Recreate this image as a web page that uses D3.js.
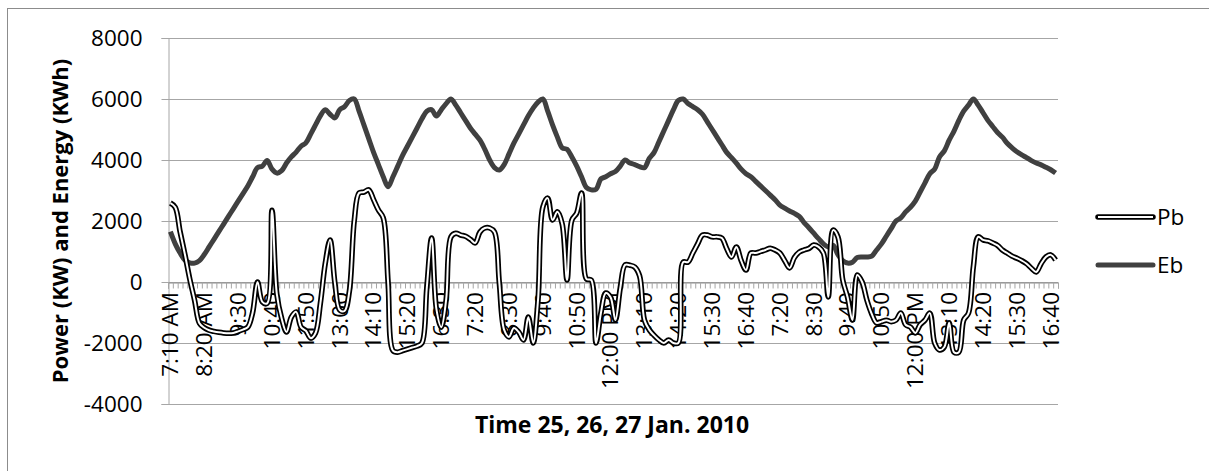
<!DOCTYPE html>
<html>
<head>
<meta charset="utf-8">
<script src="https://cdn.jsdelivr.net/npm/d3@7"></script>
<style>
  body { margin: 0; background: #fff; }
  text { font-family: "Open Sans", sans-serif; fill: #000; }
</style>
</head>
<body>
<svg width="1209" height="471"></svg>
<script>
// battery power Pb (KW), one value every 10 minutes over three days
let pb = [
  2590, 2450, 1650, 900, 100, -600, -1350, -1500, -1580, -1620,
  -1650, -1670, -1680, -1670, -1620, -1560, -1480, -1000, 0, -650,
  -700, 2350, -400, -1200, -1640, -1150, -980, -1480, -1600, -1840,
  -1670, -700, 600, 1380, -30, -920, -950, -300, 2000, 2920,
  2950, 3020, 2700, 2360, 2100, 0, -2250, -2300, -2250, -2200,
  -2150, -2100, -2000, -200, 1440, -900, -1480, -590, 1480, 1600,
  1540, 1500, 1400, 1280, 1640, 1770, 1770, 1640, -30, -1570,
  -1800, -1510, -1640, -1900, -1150, -2000, -590, 2460, 2750, 2030,
  2300, 1900, 65, 2030, 2260, 2920, 100, 65, -2000, -1020,
  -360, -500, -1250, -200, 560, 550, 490, 200, -1250, -1570,
  -1750, -1900, -2000, -1900, -2000, -2000, 650, 650, 950, 1250,
  1540, 1540, 1480, 1480, 1440, 1100, 820, 1150, 700, 390,
  950, 950, 1000, 1050, 1110, 1050, 950, 700, 460, 800,
  980, 1050, 1100, 1210, 1150, 950, -490, 1700, 1480, 65,
  -500, -1250, 230, 0, -600, -1050, -1340, -1300, -1250, -1300,
  -1250, -1020, -1400, -1480, -1670, -1400, -1250, -1020, -2000, -2230,
  -2130, -1340, -2300, -2300, -1250, -1020, 500, 1480, 1380, 1350,
  1280, 1200, 1050, 950, 850, 780, 700, 600, 450, 330,
  600, 820, 890, 720
]

// battery energy Eb (KWh)
let eb = [
  1650, 1250, 950, 720, 630, 620, 700, 900, 1150, 1400,
  1650, 1900, 2150, 2400, 2650, 2900, 3150, 3450, 3750, 3800,
  3980, 3700, 3570, 3650, 3900, 4100, 4260, 4450, 4560, 4850,
  5150, 5450, 5650, 5500, 5380, 5650, 5750, 5950, 6000, 5600,
  5150, 4700, 4250, 3850, 3450, 3120, 3450, 3800, 4150, 4450,
  4750, 5050, 5350, 5600, 5650, 5440, 5650, 5850, 6000, 5800,
  5550, 5300, 5050, 4850, 4650, 4350, 4000, 3750, 3670, 3850,
  4200, 4550, 4850, 5150, 5450, 5700, 5900, 6000, 5600, 5150,
  4750, 4400, 4350, 4100, 3800, 3450, 3100, 3020, 3040, 3380,
  3450, 3550, 3620, 3800, 4000, 3900, 3850, 3780, 3750, 4050,
  4250, 4600, 4950, 5300, 5650, 5950, 6000, 5850, 5750, 5650,
  5500, 5250, 5000, 4750, 4500, 4250, 4080, 3900, 3700, 3550,
  3450, 3300, 3150, 3000, 2850, 2700, 2520, 2420, 2330, 2250,
  2150, 1950, 1780, 1600, 1420, 1250, 1150, 1200, 900, 700,
  620, 650, 800, 820, 820, 850, 1050, 1250, 1500, 1750,
  2000, 2100, 2300, 2450, 2650, 2950, 3250, 3550, 3700, 4100,
  4300, 4650, 4950, 5300, 5600, 5800, 6000, 5800, 5550, 5300,
  5100, 4900, 4750, 4550, 4400, 4270, 4170, 4080, 3980, 3900,
  3840, 3760, 3680, 3570
]

// one time label every 7th sample
let tickLabels = [
  '7:10 AM', '8:20 AM', '9:30', '10:40', '11:50', '13:00', '14:10', '15:20', '16:30',
  '7:20', '8:30', '9:40', '10:50', '12:00 PM', '13:10', '14:20', '15:30', '16:40',
  '7:20', '8:30', '9:40', '10:50', '12:00 PM', '13:10', '14:20', '15:30', '16:40'
]
let labelStep = 7
let yTicks = [-4000, -2000, 0, 2000, 4000, 6000, 8000]

let svg = d3.select('svg')

// chart frame
svg.append('rect')
  .attr('x', 7.5).attr('y', 8.5)
  .attr('width', 1220).attr('height', 480)
  .attr('fill', 'none')
  .attr('stroke', '#8c8c8c')

let plotLeft = 168, plotRight = 1058, plotTop = 38, plotBottom = 404

let x = d3.scaleBand()
  .domain(d3.range(pb.length))
  .range([plotLeft, plotRight])
let xEdge = d3.scaleLinear()
  .domain([0, pb.length])
  .range([plotLeft, plotRight])
let y = d3.scaleLinear()
  .domain([-4000, 8000])
  .range([plotBottom, plotTop])

let cx = i => x(i) + x.bandwidth() / 2

// horizontal grid
svg.append('g')
  .selectAll('line')
  .data(yTicks)
  .join('line')
  .attr('x1', plotLeft).attr('x2', plotRight)
  .attr('y1', d => Math.round(y(d)) + 0.5)
  .attr('y2', d => Math.round(y(d)) + 0.5)
  .attr('stroke', '#a6a6a6')

// y axis, plain hyphen for negatives
let yAxis = svg.append('g')
  .attr('transform', `translate(${plotLeft + 0.5},0)`)
  .call(d3.axisLeft(y).tickValues(yTicks).tickSize(7).tickPadding(19).tickFormat(d => String(d)))
yAxis.select('.domain').attr('stroke', '#a6a6a6')
yAxis.selectAll('.tick line').attr('stroke', '#a6a6a6')
yAxis.selectAll('text')
  .style('font-size', '22.5px')
  .attr('fill', '#000')

// minor ticks along the zero line
let xAxis = svg.append('g')
  .attr('transform', `translate(0,${Math.round(y(0)) + 0.5})`)
  .call(d3.axisBottom(xEdge).tickValues(d3.range(pb.length + 1)).tickSize(6).tickFormat(''))
xAxis.select('.domain').attr('stroke', '#8c8c8c')
xAxis.selectAll('.tick line').attr('stroke', '#a6a6a6')

// rotated time labels
svg.append('g')
  .selectAll('text')
  .data(tickLabels)
  .join('text')
  .attr('transform', (d, k) => `translate(${cx(k * labelStep)},${y(0) + 10}) rotate(-90)`)
  .attr('text-anchor', 'end')
  .attr('dy', '0.35em')
  .style('font-size', '22.5px')
  .text(d => d)

let line = d3.line()
  .x((d, i) => cx(i))
  .y(d => y(d))
  .curve(d3.curveCatmullRom.alpha(0.5))

// Eb thick grey line
svg.append('path')
  .datum(eb)
  .attr('d', line)
  .attr('fill', 'none')
  .attr('stroke', '#404040')
  .attr('stroke-width', 5)
  .attr('stroke-linejoin', 'round')

// Pb double line: dark outline with white core
svg.append('path')
  .datum(pb)
  .attr('d', line)
  .attr('fill', 'none')
  .attr('stroke', '#000')
  .attr('stroke-width', 5.5)
  .attr('stroke-linejoin', 'round')
svg.append('path')
  .datum(pb)
  .attr('d', line)
  .attr('fill', 'none')
  .attr('stroke', '#fff')
  .attr('stroke-width', 2)
  .attr('stroke-linejoin', 'round')

// axis titles
svg.append('text')
  .attr('transform', `translate(68,${(plotTop + plotBottom) / 2}) rotate(-90)`)
  .attr('text-anchor', 'middle')
  .style('font-size', '22px')
  .style('font-weight', 'bold')
  .text('Power (KW) and Energy (KWh)')

svg.append('text')
  .attr('x', (plotLeft + plotRight) / 2 - 1)
  .attr('y', 433)
  .attr('text-anchor', 'middle')
  .style('font-size', '23px')
  .style('font-weight', 'bold')
  .text('Time 25, 26, 27 Jan. 2010')

// legend
let legend = svg.append('g')
legend.append('line')
  .attr('x1', 1098).attr('x2', 1153).attr('y1', 217).attr('y2', 217)
  .attr('stroke', '#000').attr('stroke-width', 5.5).attr('stroke-linecap', 'round')
legend.append('line')
  .attr('x1', 1098).attr('x2', 1153).attr('y1', 217).attr('y2', 217)
  .attr('stroke', '#fff').attr('stroke-width', 2)
legend.append('line')
  .attr('x1', 1098).attr('x2', 1153).attr('y1', 265).attr('y2', 265)
  .attr('stroke', '#404040').attr('stroke-width', 5).attr('stroke-linecap', 'round')
legend.selectAll('text')
  .data(['Pb', 'Eb'])
  .join('text')
  .attr('x', 1157)
  .attr('y', (d, i) => 217 + i * 48)
  .attr('dy', '0.35em')
  .style('font-size', '22.5px')
  .text(d => d)
</script>
</body>
</html>
